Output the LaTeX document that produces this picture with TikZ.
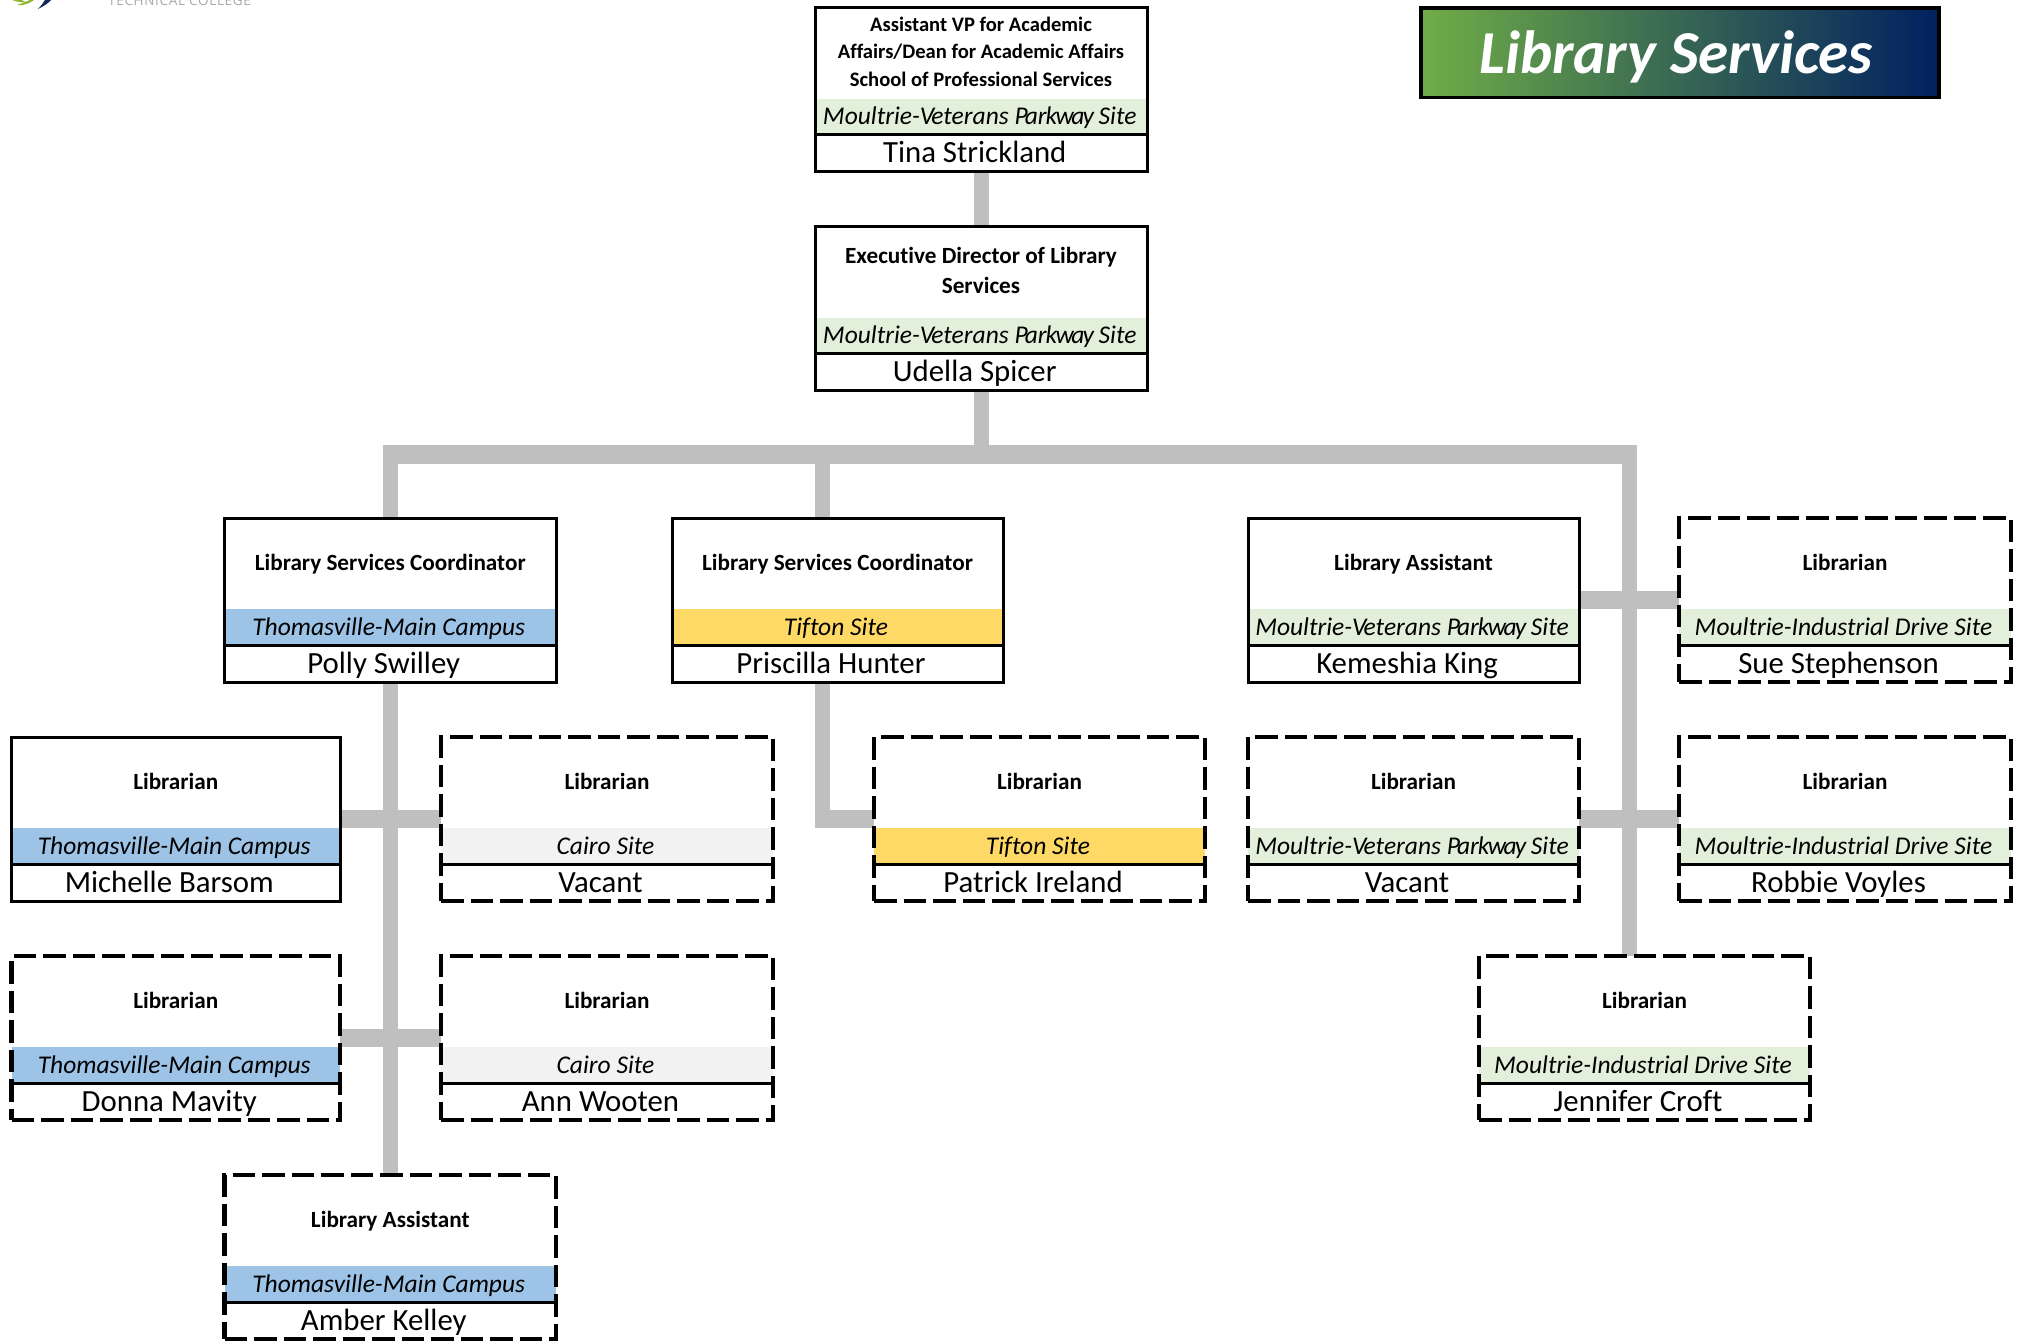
\documentclass[tikz,border=0pt]{standalone}
\usepackage{fontspec}
\setmainfont[Ligatures=NoCommon]{Carlito}
\newfontfamily\logofont[LetterSpace=5]{Open Sans}
\usetikzlibrary{backgrounds,calc}
\definecolor{conn}{HTML}{BFBFBF}
\definecolor{bandgreen}{HTML}{E2EFDA}
\definecolor{bandblue}{HTML}{9DC3E6}
\definecolor{bandyellow}{HTML}{FFD966}
\definecolor{bandgrey}{HTML}{F2F2F2}
\definecolor{gradgreen}{HTML}{70AD47}
\definecolor{gradnavy}{HTML}{002060}
\definecolor{logogreen}{HTML}{8DB32B}
\definecolor{logonavy}{HTML}{12295B}
\definecolor{logogrey}{HTML}{A8A8A8}
\tikzset{
  solidbox/.style={draw=black,line width=3pt},
  dashbox/.style={draw=black,line width=4.2pt,dash pattern=on 22.5pt off 7pt},
  divider/.style={draw=black,line width=3pt},
  ttltext/.style={inner sep=0pt,font=\fontsize{23.2}{27.5}\selectfont\bfseries,align=center},
  sitetext/.style={inner sep=0pt,anchor=base,font=\fontsize{25.5}{30}\selectfont\itshape},
  persontext/.style={inner sep=0pt,anchor=base,font=\fontsize{30.8}{36}\selectfont},
  hbar/.style={draw=conn,line width=18.7pt},
  vbar/.style={draw=conn,line width=15pt},
}
\newcommand{\vetsite}{Moultrie-V\kern-3pt eterans P\kern-3pt ar\kern-1pt k\kern-1.5pt w\kern-2.5pt a\kern-2pt y\kern-1pt\ Site}
% id, left, top, right, band colour, site, person, box style
\newcommand{\orgbox}[8]{%
  \fill[#5] (#2,#3+91) rectangle (#4,#3+127);
  \draw[divider] (#2,#3+127) -- (#4,#3+127);
  \node[#8,rectangle,inner sep=0pt,outer sep=0pt,minimum width={(#4-#2)*1pt},minimum height=164pt] (#1) at ({(#2+#4)/2},#3+82) {};
  \node[sitetext] (#1site) at ({(#2+#4)/2-1.5},#3+117) {#6};
  \node[persontext] (#1name) at ({(#2+#4)/2-6.5},#3+155) {#7};
}
\newcommand{\orgtitle}[2]{\node[ttltext,anchor=base] (#1title) at ($(#1.north)+(0,52)$) {#2};}
\begin{document}
\begin{tikzpicture}[x=1pt,y=-1pt]
\useasboundingbox (0,0) rectangle (2021,1342);
% logo fragment
\begin{scope}
\clip (0,0) rectangle (2021,1342);
\fill[logogreen] (9,-3) -- (19,-3) .. controls (22,1) and (25,2) .. (29,3) -- (17,1.5) .. controls (14,1) and (11,0) .. (9,-3);
\fill[logogreen] (17,5) .. controls (24,6) and (30,3) .. (37,-2) -- (33,-2) .. controls (29,1) and (23,3) .. (17,5);
\fill[logonavy] (38,9) .. controls (44,6) and (49,3) .. (53,-2) -- (46,-2) .. controls (44,2) and (41,6) .. (38,9);
\node[inner sep=0pt,anchor=base west,text=logogrey,font=\logofont\fontsize{13.5}{16}\selectfont] (logotext) at (108,5) {TECHNICAL COLLEGE};
\end{scope}
% heading
\shade[left color=gradgreen,right color=gradnavy] (1421,8) rectangle (1939,97.5);
\node[draw=black,line width=3.5pt,inner sep=0pt,minimum width=518pt,minimum height=89.5pt] (heading) at (1680,52.7) {};
\node[inner sep=0pt,anchor=base,text=white,font=\fontsize{61}{70}\selectfont\bfseries\itshape] (headingtext) at (1676,73) {Library Services};
% boxes
\orgbox{tina}{815.5}{7.5}{1147}{bandgreen}{\vetsite}{Tina Strickland}{solidbox}
\orgbox{udella}{815.5}{226.5}{1147}{bandgreen}{\vetsite}{Udella Spicer}{solidbox}
\orgbox{polly}{224.5}{518}{556}{bandblue}{Thomasville-Main Campus}{Polly Swilley}{solidbox}
\orgbox{priscilla}{672}{518}{1003}{bandyellow}{Tifton Site}{Priscilla Hunter}{solidbox}
\orgbox{kemeshia}{1248}{518}{1579}{bandgreen}{\vetsite}{Kemeshia King}{solidbox}
\orgbox{sue}{1679}{518}{2011}{bandgreen}{Moultrie-Industrial Drive Site}{Sue Stephenson}{dashbox}
\orgbox{michelle}{11.5}{737}{340}{bandblue}{Thomasville-Main Campus}{Michelle Barsom}{solidbox}
\orgbox{vacanta}{441}{737}{773}{bandgrey}{Cairo Site}{Vacant}{dashbox}
\orgbox{patrick}{874}{737}{1205}{bandyellow}{Tifton Site}{Patrick Ireland}{dashbox}
\orgbox{vacantb}{1248}{737}{1579}{bandgreen}{\vetsite}{Vacant}{dashbox}
\orgbox{robbie}{1679}{737}{2011}{bandgreen}{Moultrie-Industrial Drive Site}{Robbie Voyles}{dashbox}
\orgbox{donna}{11.5}{956}{340}{bandblue}{Thomasville-Main Campus}{Donna Mavity}{dashbox}
\orgbox{ann}{441}{956}{773}{bandgrey}{Cairo Site}{Ann Wooten}{dashbox}
\orgbox{jennifer}{1479}{956}{1810}{bandgreen}{Moultrie-Industrial Drive Site}{Jennifer Croft}{dashbox}
\orgbox{amber}{224.5}{1175}{556}{bandblue}{Thomasville-Main Campus}{Amber Kelley}{dashbox}
% titles
\node[ttltext,font=\fontsize{20.6}{27.5}\selectfont\bfseries] (tinatitle) at (981,51.5) {Assistant VP for Academic\\Affairs/Dean for Academic Affairs\\School of Professional Services};
\node[ttltext,font=\fontsize{23.2}{29.5}\selectfont\bfseries] (udellatitle) at (981,270.5) {Executive Director of Library\\Services};
\orgtitle{polly}{Library Services Coordinator}
\orgtitle{priscilla}{Library Services Coordinator}
\orgtitle{kemeshia}{Library Assistant}
\orgtitle{sue}{Librarian}
\orgtitle{michelle}{Librarian}
\orgtitle{vacanta}{Librarian}
\orgtitle{patrick}{Librarian}
\orgtitle{vacantb}{Librarian}
\orgtitle{robbie}{Librarian}
\orgtitle{donna}{Librarian}
\orgtitle{ann}{Librarian}
\orgtitle{jennifer}{Librarian}
\orgtitle{amber}{Library Assistant}
% connector junctions
\coordinate (busleft) at (383,454.5);
\coordinate (busright) at (1637,454.5);
\coordinate (stemL) at (390.5,454.5);
\coordinate (stemP) at (822.5,454.5);
\coordinate (stemR) at (1629.5,454.5);
\coordinate (elbow) at (822.5,819);
\begin{scope}[on background layer]
\draw[vbar] (tina.south) -- (udella.north);
\draw[vbar] (udella.south) -- (udella.south |- busleft);
\draw[hbar] (busleft) -- (busright);
\draw[vbar] (stemL) -- (stemL |- polly.north);
\draw[vbar] (stemP) -- (stemP |- priscilla.north);
\draw[vbar] (stemR) -- (stemR |- jennifer.north);
\draw[vbar] (stemL |- polly.south) -- (stemL |- amber.north);
\draw[hbar] (michelle.east) -- (vacanta.west);
\draw[hbar] (donna.east) -- (ann.west);
\draw[vbar] (stemP |- priscilla.south) -- ($(elbow)+(0,9.35)$);
\draw[hbar] ($(elbow)+(-7.5,0)$) -- (patrick.west);
\draw[hbar] (kemeshia.east) -- (sue.west);
\draw[hbar] (vacantb.east) -- (robbie.west);
\end{scope}
\end{tikzpicture}
\end{document}
